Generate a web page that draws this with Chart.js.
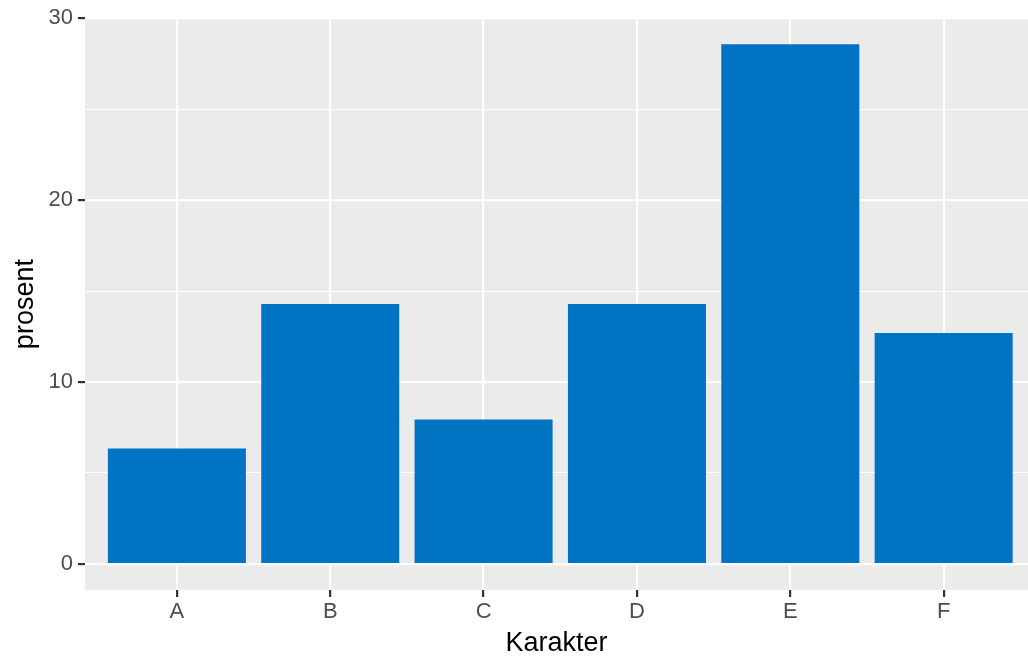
<!DOCTYPE html>
<html lang="no">
<head>
<meta charset="UTF-8">
<title>Karakter</title>
<script src="https://cdn.jsdelivr.net/npm/chart.js"></script>
<style>
  html, body { margin: 0; padding: 0; background: #ffffff; }
  #boks { width: 1028px; height: 658px; }
</style>
</head>
<body>
<div id="boks"><canvas id="graf"></canvas></div>
<script>
// data lest av figuren
var karakterer = ['A', 'B', 'C', 'D', 'E', 'F'];
var prosent = [6.35, 14.29, 7.94, 14.29, 28.57, 12.70];
var yTicks = [0, 5, 10, 15, 20, 25, 30];

var punkter = [];
for (var i = 0; i < karakterer.length; i++) {
    punkter.push({ x: i + 1, y: prosent[i] });
}

// grå bakgrunn i plottområdet, som ggplot
const panelBakgrunn = {
    id: 'panelBakgrunn',
    beforeDraw(chart) {
        const a = chart.chartArea;
        const ctx = chart.ctx;
        ctx.save();
        ctx.fillStyle = '#EBEBEB';
        ctx.fillRect(a.left, a.top, a.right - a.left, a.bottom - a.top);
        ctx.restore();
    }
};

const ctx = document.getElementById('graf').getContext('2d');
new Chart(ctx, {
    type: 'bar',
    data: {
        datasets: [{
            label: 'prosent',
            data: punkter,
            backgroundColor: '#0073C2',
            borderWidth: 0,
            barPercentage: 0.9,
            categoryPercentage: 1
        }]
    },
    plugins: [panelBakgrunn],
    options: {
        responsive: true,
        maintainAspectRatio: false,
        animation: false,
        layout: { padding: { top: 18, right: 0, bottom: 0, left: 0 } },
        plugins: {
            legend: { display: false },
            tooltip: { enabled: false }
        },
        scales: {
            x: {
                type: 'linear',
                min: 0.4,
                max: 6.55,  // bildet er kuttet litt i høyre kant
                offset: false,
                afterBuildTicks: (scale) => {
                    scale.ticks = karakterer.map((k, i) => ({ value: i + 1 }));
                },
                border: { display: false },
                grid: {
                    offset: false,
                    color: '#FFFFFF',
                    lineWidth: 2.2,
                    drawTicks: true,
                    tickLength: 7,
                    tickColor: '#333333',
                    tickWidth: 2.2
                },
                ticks: {
                    autoSkip: false,
                    maxRotation: 0,
                    padding: 4,
                    color: '#4D4D4D',
                    font: { family: 'Liberation Sans', size: 22, lineHeight: 1 },
                    callback: (v) => karakterer[v - 1]
                },
                title: {
                    display: true,
                    text: 'Karakter',
                    color: '#000000',
                    font: { family: 'Liberation Sans', size: 27, lineHeight: 1 },
                    padding: { top: 3, bottom: 1 }
                }
            },
            y: {
                min: -1.43,
                max: 30,
                afterBuildTicks: (scale) => {
                    scale.ticks = yTicks.map(v => ({ value: v }));
                },
                border: { display: false },
                grid: {
                    color: '#FFFFFF',
                    lineWidth: (c) => (c.tick && c.tick.value % 10 === 0) ? 2.2 : 1.1,
                    drawTicks: true,
                    tickLength: 7,
                    tickColor: (c) => (c.tick && c.tick.value % 10 === 0) ? '#333333' : 'rgba(0,0,0,0)',
                    tickWidth: 2.2
                },
                ticks: {
                    padding: 5,
                    color: '#4D4D4D',
                    font: { family: 'Liberation Sans', size: 22 },
                    callback: (v) => (v % 10 === 0) ? v : ''
                },
                title: {
                    display: true,
                    text: 'prosent',
                    color: '#000000',
                    font: { family: 'Liberation Sans', size: 27 },
                    padding: { top: 9, bottom: 2 }
                }
            }
        }
    }
});
</script>
</body>
</html>
